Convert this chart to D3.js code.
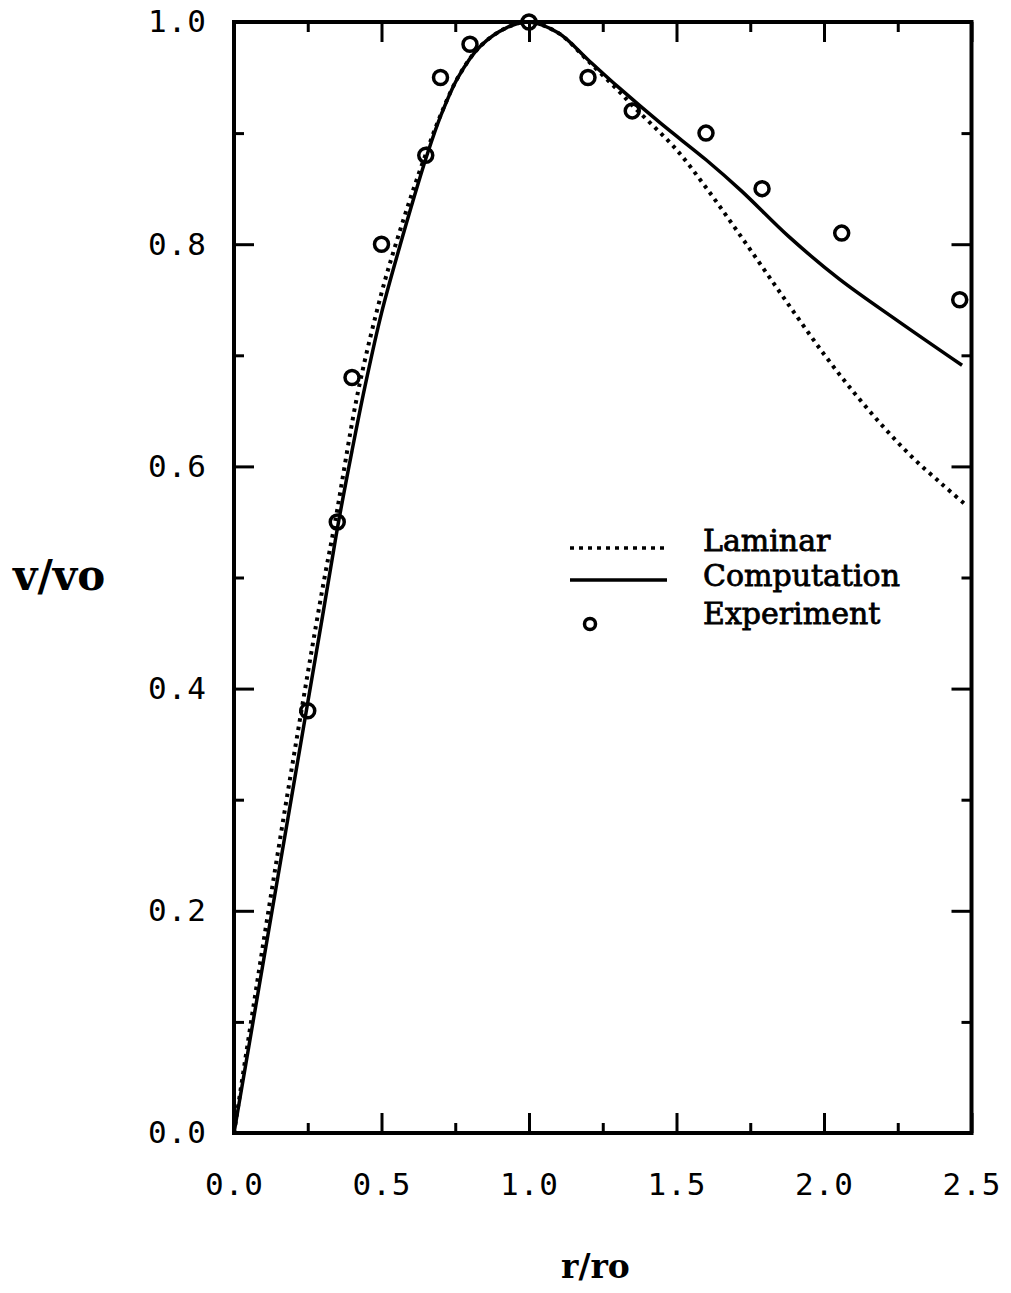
<!DOCTYPE html>
<html>
<head>
<meta charset="utf-8">
<script src="https://cdn.jsdelivr.net/npm/d3@7"></script>
<style>
  html, body { margin: 0; padding: 0; background: #fff; }
  svg { display: block; }
  .tick text { font-family: "DejaVu Sans Mono", monospace; font-size: 31px; fill: #000; letter-spacing: 1px; }
</style>
</head>
<body>
<svg id="chart" width="1011" height="1293"></svg>
<script>
// Tangential velocity profile v/vo against radius r/ro

// Experiment: measured points
const expR = [0.25, 0.35, 0.40, 0.50, 0.65, 0.70, 0.80, 1.00, 1.20, 1.35, 1.60, 1.79, 2.06, 2.46];
const expV = [0.38, 0.55, 0.68, 0.80, 0.88, 0.95, 0.98, 1.00, 0.95, 0.92, 0.90, 0.85, 0.81, 0.75];

// Computation (solid curve)
const compR = [0, 0.10, 0.20, 0.30, 0.353, 0.40, 0.444, 0.50, 0.563, 0.60, 0.654, 0.70, 0.759, 0.834, 0.925, 1.00,
               1.10, 1.20, 1.30, 1.45, 1.60, 1.72, 1.88, 2.05, 2.25, 2.468];
const compV = [0, 0.155, 0.310, 0.465, 0.548, 0.614, 0.672, 0.738, 0.799, 0.833, 0.880, 0.915, 0.950, 0.978, 0.995, 1.000,
               0.990, 0.966, 0.942, 0.908, 0.876, 0.848, 0.807, 0.769, 0.731, 0.691];

// Laminar (dotted curve)
const lamR = [0, 0.10, 0.20, 0.30, 0.342, 0.421, 0.50, 0.546, 0.60, 0.654, 0.70, 0.759, 0.834, 0.925, 1.00,
              1.10, 1.20, 1.30, 1.35, 1.40, 1.50, 1.60, 1.70, 1.80, 1.90, 2.00, 2.10, 2.20, 2.30, 2.40, 2.478];
const lamV = [0, 0.172, 0.335, 0.490, 0.549, 0.668, 0.756, 0.798, 0.843, 0.884, 0.916, 0.950, 0.978, 0.995, 1.000,
              0.990, 0.965, 0.939, 0.925, 0.912, 0.885, 0.851, 0.814, 0.776, 0.738, 0.701, 0.667, 0.636, 0.608, 0.584, 0.566];

// Axis ticks
const xMajor = [0, 0.5, 1.0, 1.5, 2.0, 2.5];
const xMinor = [0.25, 0.75, 1.25, 1.75, 2.25];
const yMajor = [0, 0.2, 0.4, 0.6, 0.8, 1.0];
const yMinor = [0.1, 0.3, 0.5, 0.7, 0.9];

// Legend entries
const legendLabels = ["Laminar", "Computation", "Experiment"];

const svg = d3.select("#chart");
const plotL = 234, plotR = 971.5, plotT = 22, plotB = 1133;

const x = d3.scaleLinear().domain([0, 2.5]).range([plotL, plotR]);
const y = d3.scaleLinear().domain([0, 1]).range([plotB, plotT]);

const fmt = d3.format(".1f");
const MAJ = 20, MIN = 10;

// Ticks pointing inward on all four sides
function tickAxis(axisFn, scale, values, size, labels, pad) {
  return axisFn(scale).tickValues(values).tickSizeInner(-size).tickSizeOuter(0)
    .tickPadding(pad || 0).tickFormat(labels ? fmt : "");
}

function drawAxis(tr, axis) {
  const g = svg.append("g").attr("transform", tr).call(axis);
  g.select(".domain").remove();
  g.selectAll(".tick line").attr("stroke", "#000").attr("stroke-width", 3);
  return g;
}

drawAxis(`translate(0,${plotB})`, tickAxis(d3.axisBottom, x, xMajor, MAJ, true, 40));
drawAxis(`translate(0,${plotB})`, tickAxis(d3.axisBottom, x, xMinor, MIN, false));
drawAxis(`translate(0,${plotT})`, tickAxis(d3.axisTop, x, xMajor, MAJ, false));
drawAxis(`translate(0,${plotT})`, tickAxis(d3.axisTop, x, xMinor, MIN, false));
drawAxis(`translate(${plotL},0)`, tickAxis(d3.axisLeft, y, yMajor, MAJ, true, 27));
drawAxis(`translate(${plotL},0)`, tickAxis(d3.axisLeft, y, yMinor, MIN, false));
drawAxis(`translate(${plotR},0)`, tickAxis(d3.axisRight, y, yMajor, MAJ, false));
drawAxis(`translate(${plotR},0)`, tickAxis(d3.axisRight, y, yMinor, MIN, false));

// Frame
svg.append("rect")
  .attr("x", plotL).attr("y", plotT)
  .attr("width", plotR - plotL).attr("height", plotB - plotT)
  .attr("fill", "none").attr("stroke", "#000").attr("stroke-width", 4);

const line = d3.line().x(d => x(d[0])).y(d => y(d[1])).curve(d3.curveCatmullRom.alpha(0.5));

// Laminar
svg.append("path")
  .datum(lamR.map((r, i) => [r, lamV[i]]))
  .attr("d", line)
  .attr("fill", "none").attr("stroke", "#000")
  .attr("stroke-width", 4).attr("stroke-dasharray", "3.5 5");

// Computation
svg.append("path")
  .datum(compR.map((r, i) => [r, compV[i]]))
  .attr("d", line)
  .attr("fill", "none").attr("stroke", "#000")
  .attr("stroke-width", 3.5).attr("stroke-linejoin", "round");

// Experiment
svg.append("g").selectAll("circle")
  .data(expR.map((r, i) => [r, expV[i]]))
  .join("circle")
  .attr("cx", d => x(d[0])).attr("cy", d => y(d[1]))
  .attr("r", 7)
  .attr("fill", "none").attr("stroke", "#000").attr("stroke-width", 3.5);

// Axis titles
svg.append("text")
  .attr("x", 13).attr("y", 590)
  .style("font-family", "'DejaVu Serif', serif").style("font-weight", "bold")
  .style("font-size", "42px")
  .text("v/vo");

svg.append("text")
  .attr("x", 561).attr("y", 1278)
  .style("font-family", "'DejaVu Serif', serif").style("font-weight", "bold")
  .style("font-size", "33px")
  .text("r/ro");

// Legend
const lg = svg.append("g");
lg.append("line").attr("x1", 570).attr("x2", 667).attr("y1", 548).attr("y2", 548)
  .attr("stroke", "#000").attr("stroke-width", 3.5).attr("stroke-dasharray", "4 5");
lg.append("line").attr("x1", 570).attr("x2", 667).attr("y1", 580).attr("y2", 580)
  .attr("stroke", "#000").attr("stroke-width", 3.5);
lg.append("circle").attr("cx", 590).attr("cy", 624).attr("r", 5.5)
  .attr("fill", "none").attr("stroke", "#000").attr("stroke-width", 3.5);

const legendY = [551, 586, 624];
lg.selectAll("text").data(legendLabels).join("text")
  .attr("x", 703).attr("y", (d, i) => legendY[i])
  .style("font-family", "'DejaVu Serif', serif")
  .style("font-size", "30px")
  .style("stroke", "#000").style("stroke-width", 0.8)
  .text(d => d);
</script>
</body>
</html>
